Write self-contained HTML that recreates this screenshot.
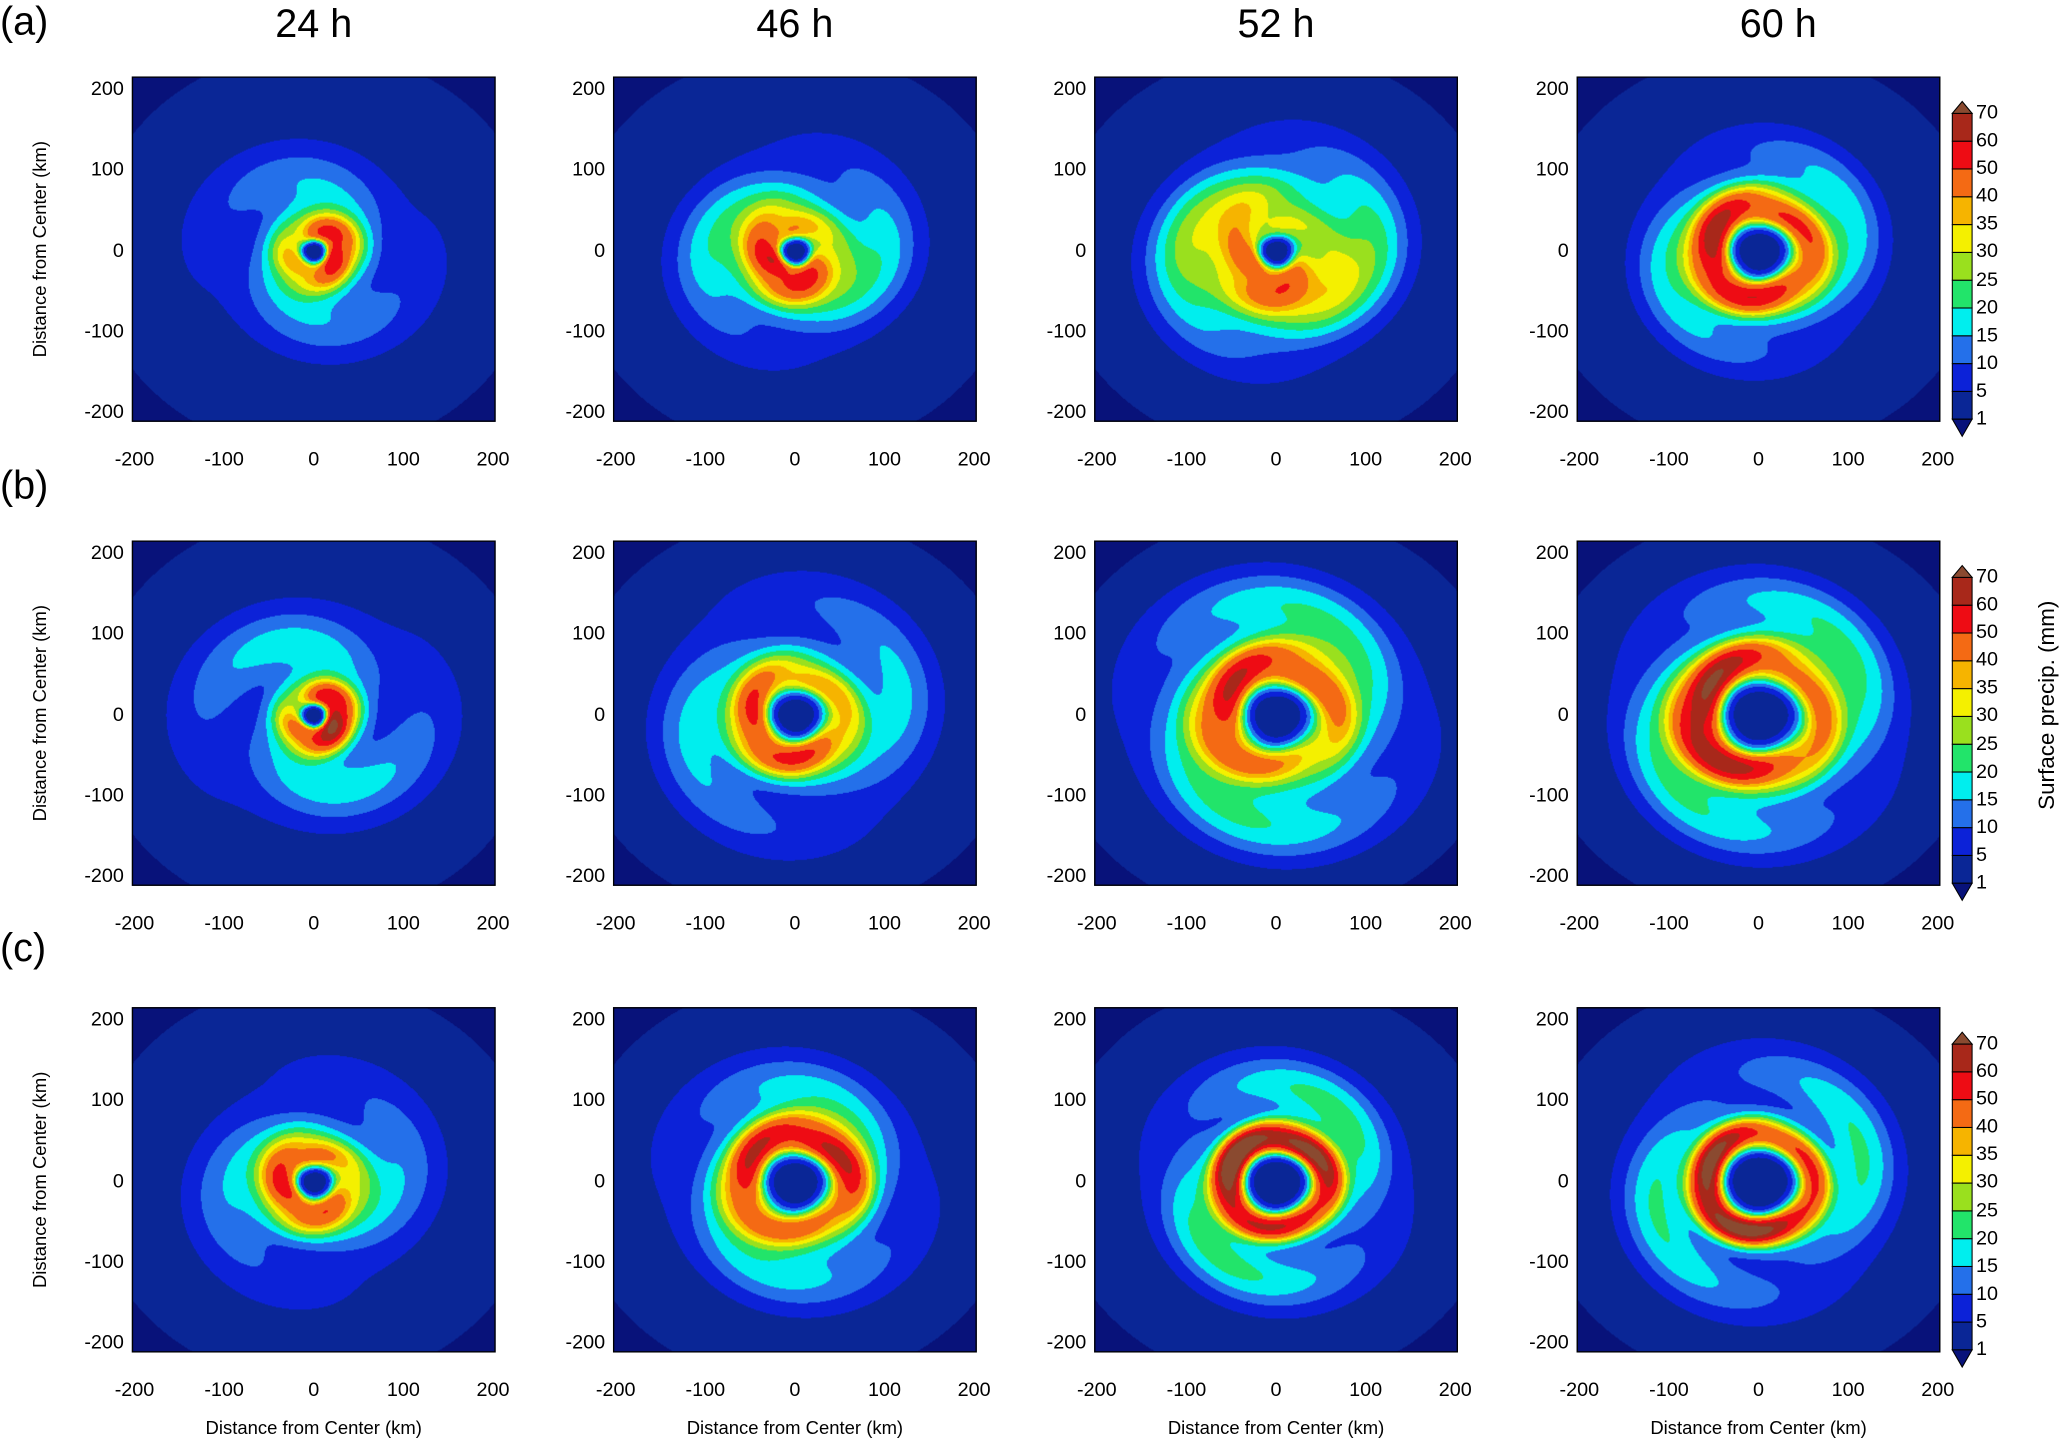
<!DOCTYPE html>
<html><head><meta charset="utf-8">
<style>
html,body{margin:0;padding:0;background:#fff;width:2067px;height:1447px;overflow:hidden}
#root{position:absolute;left:0;top:0;width:1568px;height:1098px;transform:scale(1.31824);transform-origin:0 0;font-family:"Liberation Sans",Arial,sans-serif;color:#000}
.t{position:absolute;white-space:nowrap}
canvas{position:absolute}
</style></head>
<body>
<div id="root"></div>
<script>
// ---- data ----
const levels=[1,5,10,15,20,25,30,35,40,50,60,70];
const colors=["#08127a","#0a2696","#0c22d8","#2470ea","#00eeee","#22e46a","#9ae01e","#f4f000","#f6b400","#f46a14","#ee0c14","#a8281a","#8a4a30"];
const timeLabels=["24 h","46 h","52 h","60 h"];
const rowLabels=["(a)","(b)","(c)"];
const tickValues=[-200,-100,0,100,200];
const yTickValues=[200,100,0,-100,-200];
// per panel (row-major: a24,a46,a52,a60,b24,...)
const ringRadius=[25,30,35,55, 25,50,62,68, 35,58,55,60];
const ringWidth=[28,35,48,28, 24,30,34,30, 30,28,20,20];
const ringPeak=[38,40,32,50, 45,40,42,50, 38,46,62,58];
const ringAsym=[0.3,0.3,0.3,0.15, 0.4,0.2,0.25,0.3, 0.2,0.2,0.2,0.25];
const ringPhase=[0,225,240,180, -20,220,135,180, 200,90,120,210];
const outerPeak=[9,12,15,11, 11,10,13,13, 9,11,14,13];
const outerRadius=[80,90,100,110, 90,120,130,130, 90,110,110,120];
const outerWidth=[60,50,50,40, 60,50,50,45, 60,50,45,45];

// ---- layout ----
const colX=[100,465,830,1196], panelW=276;
const rowY=[58,410,764], panelH=262;
const xmin=-203,xmax=203,ymin=-211,ymax=216;
const S=1.31824;
const root=document.getElementById('root');
function txt(s,x,y,size,extra){const d=document.createElement('div');d.className='t';d.textContent=s;d.style.left=x+'px';d.style.top=y+'px';d.style.fontSize=size+'px';if(extra)d.style.cssText+=extra;root.appendChild(d);return d;}
function sx(v,c){return colX[c]+(v-xmin)/(xmax-xmin)*panelW;}
function sy(v,r){return rowY[r]+(ymax-v)/(ymax-ymin)*panelH;}
function hex(c){return [parseInt(c.substr(1,2),16),parseInt(c.substr(3,2),16),parseInt(c.substr(5,2),16)];}
const rgb=colors.map(hex);
function idx(v){let k=0;while(k<levels.length&&v>=levels[k])k++;return k;}

for(let c=0;c<4;c++){const d=txt(timeLabels[c],0,2,30,'width:200px;text-align:center;');d.style.left=(colX[c]+panelW/2-100+(c==3?15:0))+'px';

}
const rowLabY=[0,352,703];
for(let r=0;r<3;r++){const d=txt(rowLabels[r],0,rowLabY[r],30);

}

for(let r=0;r<3;r++)for(let c=0;c<4;c++){
  const p=r*4+c;
  const cv=document.createElement('canvas');
  const W=Math.round(panelW*S),H=Math.round(panelH*S);
  cv.width=W;cv.height=H;cv.style.left=colX[c]+'px';cv.style.top=rowY[r]+'px';cv.style.width=panelW+'px';cv.style.height=panelH+'px';
  
  
  root.appendChild(cv);
  const ctx=cv.getContext('2d');const img=ctx.createImageData(W,H);
  const r0=ringRadius[p],w=ringWidth[p],A=ringPeak[p],a=ringAsym[p],ph=ringPhase[p]*Math.PI/180;
  const B=outerPeak[p],r1=outerRadius[p],w1=outerWidth[p],re=r0*0.6;
  for(let j=0;j<H;j++){const y=ymax-(j/H)*(ymax-ymin);
    for(let i=0;i<W;i++){const x=xmin+(i/W)*(xmax-xmin);
      const rr=Math.hypot(x,y),th=Math.atan2(y,x);
      let v=A*Math.exp(-Math.pow((rr-r0)/w,2))*(1+a*Math.cos(th-ph))*(1+0.12*Math.cos(3*th+rr/12));
      v+=B*Math.exp(-Math.pow((rr-r1)/w1,2))*(1+0.45*Math.cos(2*th-rr/28+ph));
      v*=1-Math.exp(-Math.pow(rr/re,4));
      v+=2.5*Math.exp(-Math.pow(rr/260,2));
      const k=idx(v),col=rgb[k],o=(j*W+i)*4;
      img.data[o]=col[0];img.data[o+1]=col[1];img.data[o+2]=col[2];img.data[o+3]=255;}}
  ctx.putImageData(img,0,0);
  const f=document.createElement('div');f.style.cssText='position:absolute;border:1px solid #000;box-sizing:border-box;left:'+colX[c]+'px;top:'+rowY[r]+'px;width:'+panelW+'px;height:'+panelH+'px';
  
  
  root.appendChild(f);
  for(const v of tickValues){const d=txt(String(v),sx(v,c)-30,rowY[r]+panelH+20,15,'width:60px;text-align:center;');
    
    }
  for(const v of yTickValues){const d=txt(String(v),colX[c]-66,sy(v,r)-9,15,'width:60px;text-align:right;');
    
    }
  if(c==0){const d=txt('Distance from Center (km)',0,0,14,'width:260px;text-align:center;transform:rotate(-90deg);');
    d.style.left=(30-130)+'px';d.style.top=(rowY[r]+panelH/2-8)+'px';
    
    }
  if(r==2){const d=txt('Distance from Center (km)',colX[c]+panelW/2-130,1075,14,'width:260px;text-align:center;');
    
    }
}
const cbTop=[86,438,792],cbX=1481,cbW=15,cbH=232;
const ns="http://www.w3.org/2000/svg";
for(let r=0;r<3;r++){
  const svg=document.createElementNS(ns,'svg');svg.setAttribute('width',40);svg.setAttribute('height',cbH+24);
  svg.style.cssText='position:absolute;left:'+(cbX-2)+'px;top:'+(cbTop[r]-10)+'px;overflow:visible';
  
  
  const n=levels.length-1,bh=cbH/n;
  for(let k=0;k<n;k++){const rc=document.createElementNS(ns,'rect');
    rc.setAttribute('x',2);rc.setAttribute('y',10+cbH-(k+1)*bh);rc.setAttribute('width',cbW);rc.setAttribute('height',bh);
    rc.setAttribute('fill',colors[k+1]);rc.setAttribute('stroke','#000');rc.setAttribute('stroke-width',0.8);
    
    
    svg.appendChild(rc);}
  const t1=document.createElementNS(ns,'polygon');t1.setAttribute('points',`2,10 ${2+cbW},10 ${2+cbW/2},1`);t1.setAttribute('fill',colors[12]);t1.setAttribute('stroke','#000');t1.setAttribute('stroke-width',0.8);
  
  svg.appendChild(t1);
  const t2=document.createElementNS(ns,'polygon');t2.setAttribute('points',`2,${10+cbH} ${2+cbW},${10+cbH} ${2+cbW/2},${10+cbH+13}`);t2.setAttribute('fill',colors[0]);t2.setAttribute('stroke','#000');t2.setAttribute('stroke-width',0.8);
  
  svg.appendChild(t2);
  root.appendChild(svg);
  for(let k=0;k<levels.length;k++){
    const yy=cbTop[r]+cbH-k*bh;
    const d=txt(String(levels[k]),1499,yy-9,15);
    
    }
}
const ct=txt('Surface precip. (mm)',0,0,17,'width:240px;text-align:center;transform:rotate(-90deg);');
ct.style.left=(1553-120)+'px';ct.style.top=(535-10)+'px';


</script>
</body></html>
